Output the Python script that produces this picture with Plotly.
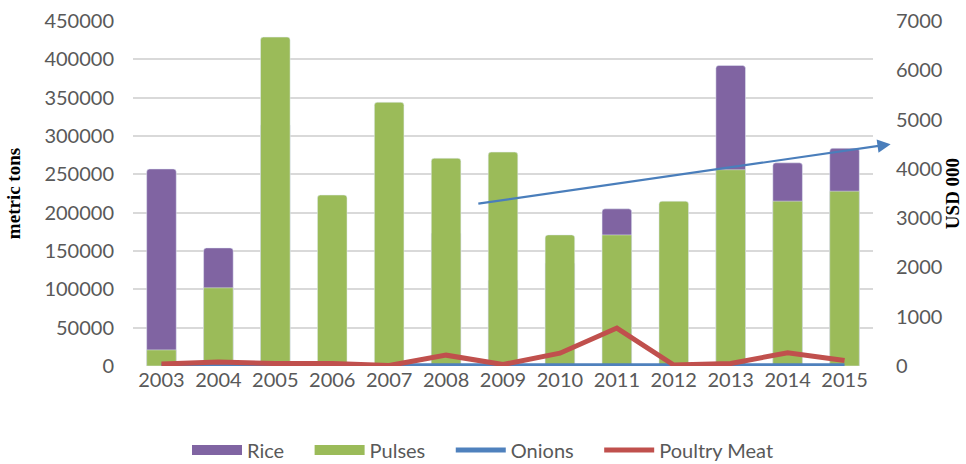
import plotly.graph_objects as go

years = ["2003", "2004", "2005", "2006", "2007", "2008", "2009",
         "2010", "2011", "2012", "2013", "2014", "2015"]
rice = [257000, 154000, 314000, 0, 0, 173000, 112000, 134000, 205000, 0, 392000, 265000, 284000]
pulses = [21000, 102000, 429000, 223000, 344000, 271000, 279000, 171000, 171000, 215000, 256000, 215000, 228000]
onions = [5, 5, 5, 5, 5, 5, 5, 5, 5, 5, 5, 5, 5]
poultry = [40, 80, 50, 50, 10, 220, 30, 260, 770, 20, 50, 270, 110]

# trend arrow (category index, USD 000)
arrow_start = (5.54, 3290)
arrow_end = (12.81, 4500)

RICE_C = "#8064A2"
PULSE_C = "#9BBB59"
GREY = "#595959"
tick_font = dict(family="Lato", size=20, color=GREY)
title_font = dict(family="Liberation Serif", size=19, color="#000000")
pad = "\u00a0\u00a0\u00a0\u00a0"  # extra room between legend entries

fig = go.Figure()
fig.add_trace(go.Bar(x=years, y=rice, name="Rice", marker_color=RICE_C, showlegend=False))
fig.add_trace(go.Bar(x=years, y=pulses, name="Pulses", marker_color=PULSE_C, showlegend=False))
# legend entries drawn as wide swatches like the original
fig.add_trace(go.Scatter(x=[None], y=[None], name="Rice" + pad, mode="lines",
                         line=dict(color=RICE_C, width=17)))
fig.add_trace(go.Scatter(x=[None], y=[None], name="Pulses" + pad, mode="lines",
                         line=dict(color=PULSE_C, width=17)))
fig.add_trace(go.Scatter(x=years, y=onions, name="Onions" + pad, mode="lines",
                         line=dict(color="#4F81BD", width=5), yaxis="y2"))
fig.add_trace(go.Scatter(x=years, y=poultry, name="Poultry Meat", mode="lines",
                         line=dict(color="#C0504D", width=5), yaxis="y2"))

fig.add_annotation(x=arrow_end[0], y=arrow_end[1], ax=arrow_start[0], ay=arrow_start[1],
                   xref="x", yref="y2", axref="x", ayref="y2", text="",
                   showarrow=True, arrowhead=2, arrowsize=1.2, arrowwidth=2.2,
                   arrowcolor="#4A7EBB")

fig.update_layout(
    width=966, height=464,
    margin=dict(l=133, r=93, t=21, b=98, autoexpand=False),
    paper_bgcolor="white", plot_bgcolor="white",
    barmode="overlay", bargap=0.48, barcornerradius=3,
    font=tick_font,
    showlegend=True,
    legend=dict(orientation="h", x=0.5, xanchor="center", xref="container",
                y=0.03, yanchor="middle", yref="container",
                font=dict(family="Lato", size=20, color=GREY), traceorder="normal",
                itemwidth=50),
    xaxis=dict(range=[-0.5, 12.5], showgrid=False, tickfont=tick_font, ticks="",
               showline=False, automargin=False),
    yaxis=dict(range=[0, 450000], dtick=50000, tickformat="d", showgrid=True,
               gridcolor="#D9D9D9", gridwidth=1.5, tickfont=tick_font, zeroline=False,
               automargin=False, ticklabelstandoff=18,
               title=dict(text="<b>metric tons</b>", font=title_font, standoff=18)),
    yaxis2=dict(range=[0, 7000], dtick=1000, tickformat="d", overlaying="y", side="right",
                showgrid=False, zeroline=False, tickfont=tick_font, automargin=False,
                ticklabelstandoff=22,
                title=dict(text="<b>USD 000</b>", font=title_font, standoff=4)),
)

# drop the browser's default page margin so the figure sits at the corner
fig.write_html("out.html", config={"displayModeBar": False},
               post_script="document.body.style.margin='0';")
